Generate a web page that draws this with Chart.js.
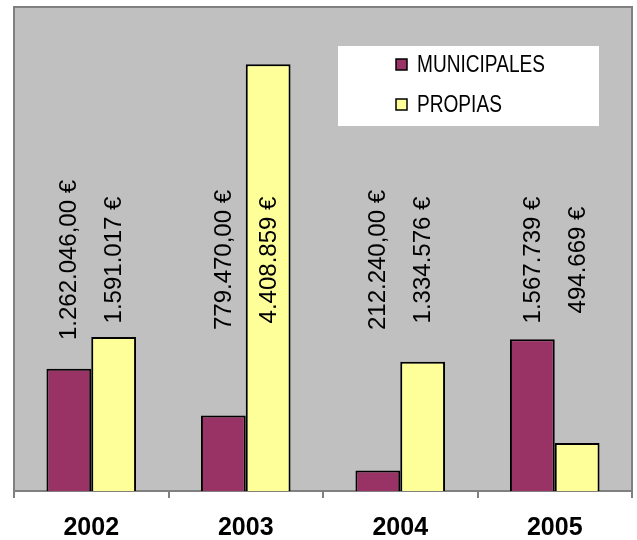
<!DOCTYPE html>
<html>
<head>
<meta charset="utf-8">
<script src="https://cdn.jsdelivr.net/npm/chart.js@4/dist/chart.umd.min.js"></script>
<style>
  html, body { margin: 0; padding: 0; background: #ffffff; }
  #wrap { width: 637px; height: 540px; }
</style>
</head>
<body>
<div id="wrap"><canvas id="ingresosChart" width="637" height="540"></canvas></div>
<script>
// Ingresos por año
var years = ["2002", "2003", "2004", "2005"];
var municipales = [1262046, 779470, 212240, 1567739];
var propias = [1591017, 4408859, 1334576, 494669];
var municipalesText = ["1.262.046,00 €", "779.470,00 €", "212.240,00 €", "1.567.739 €"];
var propiasText = ["1.591.017 €", "4.408.859 €", "1.334.576 €", "494.669 €"];

// fondo gris del área de trazado
var plotBackground = {
    id: 'plotBackground',
    beforeDraw: function (chart) {
        var ctx = chart.ctx, a = chart.chartArea;
        ctx.save();
        ctx.fillStyle = "#c0c0c0";
        ctx.fillRect(a.left, a.top, a.right - a.left, a.bottom - a.top);
        ctx.strokeStyle = "#808080";
        ctx.lineWidth = 2;
        ctx.beginPath();
        ctx.moveTo(a.left, a.bottom);
        ctx.lineTo(a.left, a.top);
        ctx.lineTo(a.right, a.top);
        ctx.lineTo(a.right, a.bottom);
        ctx.stroke();
        ctx.restore();
    }
};

// etiquetas verticales con los importes
var valueLabels = {
    id: 'valueLabels',
    afterDatasetsDraw: function (chart) {
        var ctx = chart.ctx;
        var texts = [municipalesText, propiasText];
        ctx.save();
        ctx.font = "24px 'Liberation Sans', Arial, sans-serif";
        ctx.fillStyle = "#000000";
        ctx.textAlign = "center";
        ctx.textBaseline = "middle";
        chart.data.datasets.forEach(function (ds, i) {
            chart.getDatasetMeta(i).data.forEach(function (bar, j) {
                ctx.save();
                ctx.translate(bar.x, 260);
                ctx.rotate(-Math.PI / 2);
                ctx.fillText(texts[i][j], 0, 1);
                ctx.restore();
            });
        });
        ctx.restore();
    }
};

// leyenda en recuadro blanco
var boxLegend = {
    id: 'boxLegend',
    afterDraw: function (chart) {
        var ctx = chart.ctx;
        ctx.save();
        ctx.fillStyle = "#ffffff";
        ctx.fillRect(338, 46, 261, 80);
        chart.data.datasets.forEach(function (ds, i) {
            var y = 65 + i * 40;
            ctx.fillStyle = ds.backgroundColor;
            ctx.strokeStyle = "#000000";
            ctx.lineWidth = 1.5;
            ctx.fillRect(396, y - 6, 11, 11);
            ctx.strokeRect(396, y - 6, 11, 11);
            ctx.save();
            ctx.translate(417, y);
            ctx.scale(0.83, 1);
            ctx.fillStyle = "#000000";
            ctx.font = "23px 'Liberation Sans', Arial, sans-serif";
            ctx.textBaseline = "middle";
            ctx.fillText(ds.label, 0, 1);
            ctx.restore();
        });
        ctx.restore();
    }
};

var ingresosData = {
    labels: years,
    datasets: [{
        label: "MUNICIPALES",
        backgroundColor: "#993366",
        borderColor: "#000000",
        borderWidth: 2,
        data: municipales
    }, {
        label: "PROPIAS",
        backgroundColor: "#ffff99",
        borderColor: "#000000",
        borderWidth: 2,
        data: propias
    }]
};

var ingresosContext = document.getElementById("ingresosChart").getContext("2d");
var ingresosChart = new Chart(ingresosContext, {
    type: 'bar',
    data: ingresosData,
    plugins: [plotBackground, valueLabels, boxLegend],
    options: {
        responsive: false,
        animation: false,
        layout: { padding: { top: 7, left: 14, right: 5, bottom: 0 } },
        datasets: {
            bar: { categoryPercentage: 0.58, barPercentage: 1 }
        },
        plugins: {
            legend: { display: false },
            tooltip: { enabled: false }
        },
        scales: {
            y: {
                display: false,
                min: 0,
                max: 5000000
            },
            x: {
                afterFit: function (scale) { scale.height = 49; },
                border: { display: true, color: "#808080", width: 2 },
                grid: {
                    offset: true,
                    drawOnChartArea: false,
                    drawTicks: true,
                    tickLength: 7,
                    color: "#808080",
                    lineWidth: 2
                },
                ticks: {
                    color: "#000000",
                    padding: 15,
                    font: { family: "'Liberation Sans', Arial, sans-serif", size: 25, weight: 'bold' }
                }
            }
        }
    }
});
</script>
</body>
</html>
